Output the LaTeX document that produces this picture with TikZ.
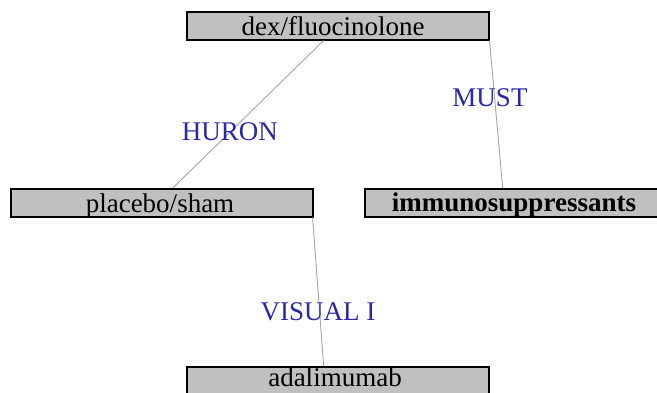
\documentclass[tikz,border=0pt]{standalone}
\usepackage{fontspec}
\setmainfont{Liberation Serif}
\usetikzlibrary{calc}
\definecolor{boxgray}{RGB}{192,192,192}
\definecolor{edgegray}{RGB}{165,165,165}
\definecolor{lblblue}{RGB}{40,40,170}
\begin{document}
\begin{tikzpicture}[x=1pt,y=-1pt,
  box/.style={draw=black,line width=1.5pt,fill=boxgray,minimum width=302pt,minimum height=28pt,inner sep=0pt,anchor=north west},
  boxtext/.style={anchor=base,font=\fontsize{27}{27}\selectfont,inner sep=0pt},
  link/.style={draw=edgegray,line width=0.9pt},
  lbl/.style={text=lblblue,font=\fontsize{27}{27}\selectfont,inner sep=0pt}]
\useasboundingbox (0,0) rectangle (657,392);
\clip (0,0) rectangle (657,392);
\node[box] (dex) at (186,11) {};
\node[box] (plc) at (10,188) {};
\node[box] (imm) at (364,188) {};
\node[box] (ada) at (186,366) {};
\node[boxtext] (dext) at (333,35) {dex/fluocinolone};
\node[boxtext] (plct) at (160,212) {placebo/sham};
\node[boxtext] (immt) at (514,211) {\bfseries immunosuppressants};
\node[boxtext,text depth=0pt] (adat) at (335,386) {adalimumab};
\draw[link] ($(dex.south west)!0.4536!(dex.south east)$) -- ($(plc.north west)!0.5364!(plc.north east)$);
\draw[link] (dex.south east) -- ($(imm.north west)!0.457!(imm.north east)$);
\draw[link] ($(plc.south west)!0.997!(plc.south east)$) -- ($(ada.north west)!0.4536!(ada.north east)$);
\node[lbl] (huron) at (230,132) {HURON};
\node[lbl] (must) at (490,98) {MUST};
\node[lbl] (visual) at (318,312) {VISUAL I};
\end{tikzpicture}
\end{document}
